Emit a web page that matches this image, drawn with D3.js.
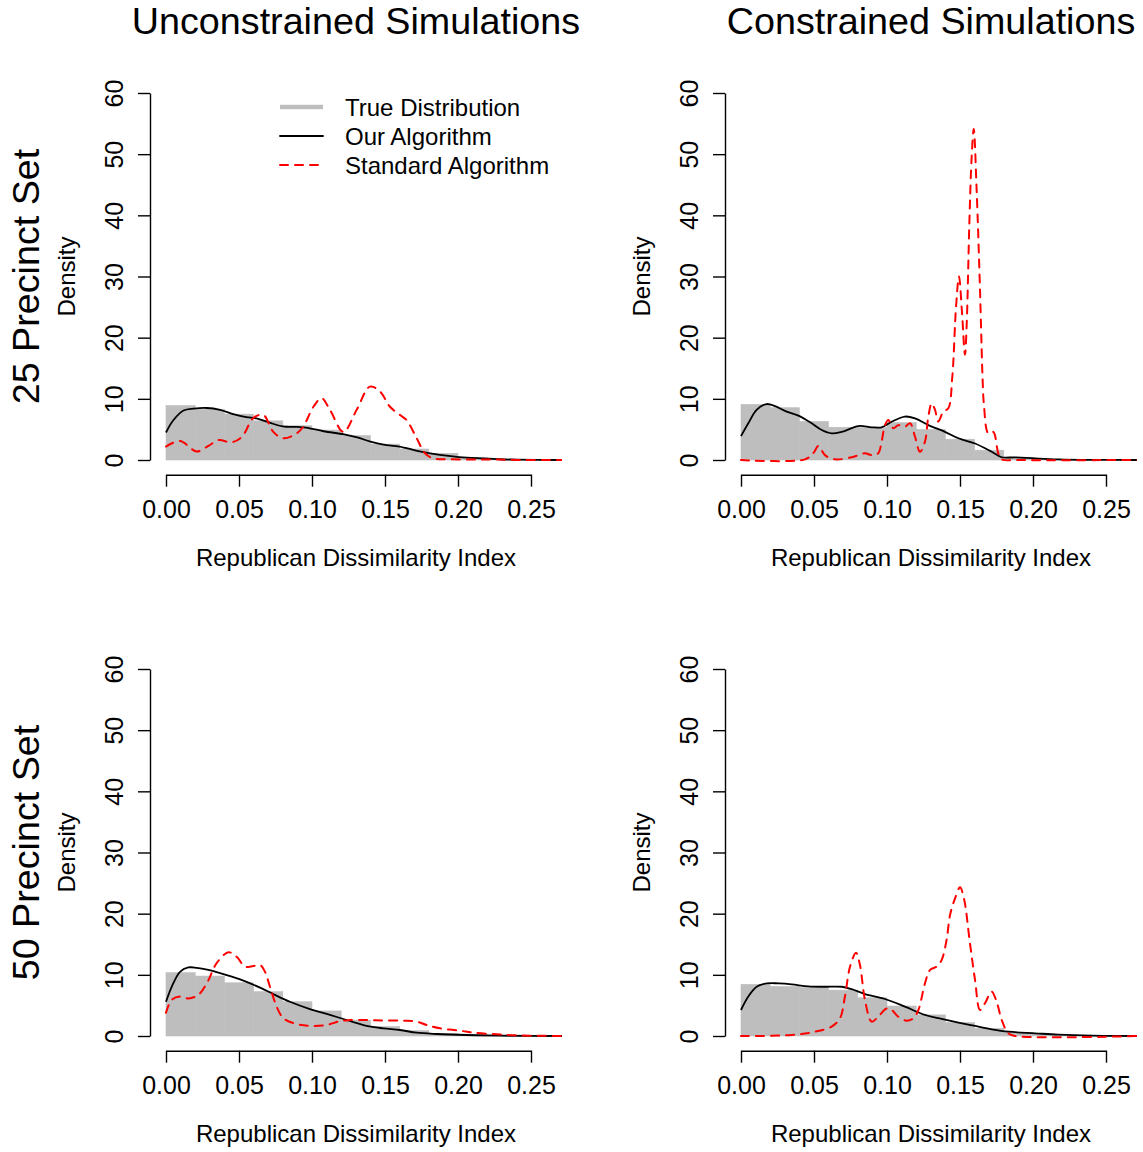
<!DOCTYPE html>
<html>
<head>
<meta charset="utf-8">
<script src="https://cdn.jsdelivr.net/npm/d3@7"></script>
<style>
  body { margin: 0; background: #fff; }
  svg { display: block; font-family: "Liberation Sans", Arial, Helvetica, sans-serif; }
</style>
</head>
<body>
<div id="chart"></div>
<script>
// histogram bins (left edges), width 0.02
const histBins = [0, 0.02, 0.04, 0.06, 0.08, 0.10, 0.12, 0.14, 0.16, 0.18, 0.20, 0.22, 0.24];
const binWidth = 0.02;

// true distribution densities per bin
const true25u = [8.9, 8.3, 7.5, 6.4, 5.6, 4.9, 4.0, 2.6, 1.8, 1.1, 0.45, 0.15, 0.05];
const true25c = [9.1, 8.55, 6.3, 5.35, 5.3, 6.1, 5.0, 3.4, 1.6, 0.35, 0.1, 0.03, 0];
const true50u = [10.35, 9.8, 8.7, 7.25, 5.6, 4.1, 2.6, 1.55, 0.87, 0.45, 0.22, 0.1, 0.03];
const true50c = [8.45, 8.1, 7.9, 7.5, 6.25, 4.9, 3.45, 2.2, 1.25, 0.6, 0.27, 0.1, 0.03];

// density curves, [x, density]
const ours25u = [[0, 4.5], [0.005, 6.5], [0.012, 8.1], [0.019, 8.4], [0.028, 8.5], [0.037, 8.2],
  [0.046, 7.5], [0.055, 7.0], [0.062, 6.8], [0.071, 6.1], [0.080, 5.5], [0.090, 5.4], [0.096, 5.3],
  [0.108, 4.7], [0.122, 4.2], [0.131, 3.7], [0.140, 3.0], [0.149, 2.5], [0.160, 2.2], [0.172, 1.5],
  [0.181, 1.1], [0.195, 0.65], [0.206, 0.4], [0.217, 0.27], [0.229, 0.12], [0.240, 0.05], [0.272, 0]];
const std25u = [[0, 2.2], [0.0096, 3.1], [0.021, 1.4], [0.029, 2.3], [0.036, 3.25], [0.045, 2.9],
  [0.052, 3.8], [0.060, 6.9], [0.0667, 7.35], [0.0735, 4.6], [0.0804, 3.55], [0.0895, 4.35],
  [0.094, 5.45], [0.101, 8.7], [0.1066, 10.1], [0.1123, 8.2], [0.1215, 4.6], [0.1306, 8.2],
  [0.1397, 12.0], [0.1466, 11.2], [0.1534, 8.7], [0.1603, 7.35], [0.1649, 6.5], [0.1717, 3.55],
  [0.1774, 1.1], [0.1831, 0.27], [0.1945, 0.11], [0.217, 0.1], [0.240, 0.02], [0.272, 0]];

const ours25c = [[0, 3.9], [0.005, 6.0], [0.0107, 8.2], [0.0176, 9.15], [0.0233, 8.8], [0.0313, 7.9],
  [0.0393, 7.25], [0.0484, 6.0], [0.0553, 4.9], [0.0621, 4.35], [0.069, 4.6], [0.0804, 5.55],
  [0.0895, 5.35], [0.0963, 5.35], [0.1032, 6.25], [0.1123, 7.1], [0.1192, 6.8], [0.1283, 5.7],
  [0.1397, 4.6], [0.1489, 3.55], [0.1603, 2.7], [0.1717, 1.35], [0.1785, 0.45], [0.1877, 0.44],
  [0.2014, 0.27], [0.2173, 0.11], [0.2402, 0.02], [0.272, 0]];
const std25c = [[0, 0], [0.0438, 0.11], [0.0495, 1.1], [0.053, 2.3], [0.0575, 0.8], [0.0644, 0.11],
  [0.0758, 0.45], [0.0849, 1.1], [0.0895, 0.8], [0.094, 1.1], [0.0963, 3.0], [0.0986, 5.7],
  [0.1009, 6.55], [0.1043, 5.2], [0.1078, 5.7], [0.1123, 5.45], [0.1158, 6.0], [0.1192, 3.8],
  [0.1226, 1.35], [0.126, 3.0], [0.1283, 7.1], [0.1306, 9.25], [0.1329, 8.2], [0.1351, 6.3],
  [0.1386, 7.9], [0.142, 8.45], [0.1447, 13.5], [0.1473, 25.1], [0.1493, 30.0], [0.1514, 24.0],
  [0.1534, 17.2], [0.1546, 22.3], [0.1564, 38.7], [0.158, 49.6], [0.1594, 54.1], [0.1614, 44.1],
  [0.1637, 27.8], [0.1655, 13.1], [0.1664, 9.0], [0.1694, 4.35], [0.1728, 4.6], [0.1762, 1.1],
  [0.1786, 0.1], [0.19, 0], [0.272, 0]];

const ours50u = [[0, 5.6], [0.0039, 8.05], [0.0096, 10.5], [0.0153, 11.2], [0.021, 11.15],
  [0.029, 10.8], [0.0416, 9.95], [0.053, 9.05], [0.0644, 7.9], [0.0735, 6.85], [0.0849, 5.6],
  [0.0986, 4.4], [0.1123, 3.45], [0.126, 2.45], [0.1374, 1.65], [0.1489, 1.25], [0.1603, 0.98],
  [0.1717, 0.54], [0.1854, 0.33], [0.2059, 0.16], [0.2288, 0.05], [0.272, 0]];
const std50u = [[0, 3.8], [0.0039, 5.9], [0.0096, 6.45], [0.0153, 6.15], [0.022, 6.7], [0.0279, 8.6],
  [0.0347, 11.9], [0.0427, 13.7], [0.0484, 12.95], [0.0541, 11.35], [0.0598, 11.45], [0.0644, 11.6],
  [0.0678, 10.5], [0.0712, 8.05], [0.0758, 4.8], [0.0804, 2.9], [0.0895, 1.95], [0.0986, 1.65],
  [0.11, 1.8], [0.1192, 2.45], [0.126, 2.6], [0.1374, 2.6], [0.1489, 2.55], [0.1626, 2.5],
  [0.1717, 2.35], [0.1785, 1.8], [0.1877, 1.25], [0.2014, 0.87], [0.2105, 0.54], [0.2265, 0.27],
  [0.2402, 0.1], [0.272, 0]];

const ours50c = [[0, 4.25], [0.005, 6.45], [0.0107, 8.05], [0.0176, 8.6], [0.0256, 8.6], [0.0347, 8.45],
  [0.0461, 8.1], [0.0575, 8.05], [0.069, 8.05], [0.0758, 7.65], [0.0849, 6.85], [0.0986, 6.05],
  [0.1123, 4.8], [0.126, 3.45], [0.1374, 2.8], [0.1489, 2.2], [0.1603, 1.65], [0.1717, 1.1],
  [0.1831, 0.7], [0.2014, 0.44], [0.2173, 0.22], [0.2402, 0.05], [0.272, 0]];
const std50c = [[0, 0], [0.0347, 0.16], [0.0507, 0.7], [0.0621, 1.55], [0.0678, 2.9], [0.0712, 6.45],
  [0.0747, 11.35], [0.0788, 13.6], [0.0815, 11.6], [0.0849, 5.9], [0.0895, 2.35], [0.094, 3.15],
  [0.0998, 4.5], [0.1032, 4.25], [0.1078, 3.15], [0.1135, 2.5], [0.1181, 2.9], [0.1215, 4.25],
  [0.126, 8.6], [0.1295, 10.8], [0.134, 11.35], [0.1374, 12.4], [0.1408, 15.7], [0.1432, 19.8],
  [0.1466, 22.5], [0.15, 24.3], [0.1527, 22.5], [0.1568, 15.2], [0.1603, 9.15], [0.1637, 4.25],
  [0.1671, 5.35], [0.1717, 7.25], [0.1751, 5.6], [0.1786, 2.6], [0.1831, 0.44], [0.1877, 0],
  [0.272, 0]];

const xTicks = [0, 0.05, 0.10, 0.15, 0.20, 0.25];
const yTicks = [0, 10, 20, 30, 40, 50, 60];
const colTitles = ["Unconstrained Simulations", "Constrained Simulations"];
const rowTitles = ["25 Precinct Set", "50 Precinct Set"];
const legendLabels = ["True Distribution", "Our Algorithm", "Standard Algorithm"];

const W = 1143, H = 1152;
const svg = d3.select("#chart").append("svg").attr("width", W).attr("height", H);

const panels = [
  { col: 0, row: 0, hist: true25u, ours: ours25u, std: std25u, legend: true },
  { col: 1, row: 0, hist: true25c, ours: ours25c, std: std25c },
  { col: 0, row: 1, hist: true50u, ours: ours50u, std: std50u },
  { col: 1, row: 1, hist: true50c, ours: ours50c, std: std50c },
];

const line = (x, y) => d3.line()
  .x(d => x(d[0])).y(d => y(d[1]))
  .curve(d3.curveCatmullRom.alpha(0.5));

panels.forEach((p, i) => {
  const left = p.col ? 725 : 150;      // plot-region left edge (y axis)
  const rowOff = p.row * 576;
  const x = d3.scaleLinear().domain([0, 0.25]).range([left + 16, left + 16 + 365]);
  const y = d3.scaleLinear().domain([0, 60]).range([460 + rowOff, 93 + rowOff]);
  const plotTop = y(62.4), plotBot = y(-2.4), plotRight = left + 412;
  const g = svg.append("g");

  const clipId = "clip" + i;
  g.append("clipPath").attr("id", clipId).append("rect")
    .attr("x", left).attr("y", plotTop).attr("width", plotRight - left).attr("height", plotBot - plotTop);
  const pg = g.append("g").attr("clip-path", `url(#${clipId})`);

  // bars, no border; a thin same-colour stroke hides the seams between them
  pg.selectAll("rect.bar").data(p.hist).join("rect")
    .attr("x", (d, k) => x(histBins[k]))
    .attr("width", (d, k) => x(histBins[k] + binWidth) - x(histBins[k]))
    .attr("y", d => y(d))
    .attr("height", d => y(0) - y(d))
    .attr("fill", "#bebebe")
    .attr("stroke", "#bebebe").attr("stroke-width", 0.6);

  pg.append("path").attr("d", line(x, y)(p.ours))
    .attr("fill", "none").attr("stroke", "#000").attr("stroke-width", 1.8);
  pg.append("path").attr("d", line(x, y)(p.std))
    .attr("fill", "none").attr("stroke", "#ff0000").attr("stroke-width", 2)
    .attr("stroke-dasharray", "8,7").attr("stroke-linecap", "round");

  // x axis
  const xa = g.append("g").attr("transform", `translate(0,${plotBot})`)
    .call(d3.axisBottom(x).tickValues(xTicks).tickFormat(d3.format(".2f")).tickSize(12).tickSizeOuter(0));
  xa.select(".domain").attr("stroke-width", 1.4);
  xa.selectAll(".tick line").attr("stroke-width", 1.4);
  xa.selectAll(".tick text").attr("y", 43).attr("dy", 0)
    .attr("font-size", 25).attr("fill", "#000");

  // y axis, labels parallel to the axis
  const ya = g.append("g").attr("transform", `translate(${left},0)`)
    .call(d3.axisLeft(y).tickValues(yTicks).tickSize(12).tickSizeOuter(0));
  ya.select(".domain").attr("stroke-width", 1.4);
  ya.selectAll(".tick line").attr("stroke-width", 1.4);
  ya.selectAll(".tick text").attr("x", 0).attr("dy", 0).attr("text-anchor", "middle")
    .attr("transform", "translate(-27,0) rotate(-90)")
    .attr("font-size", 25).attr("fill", "#000");
  svg.selectAll("g[font-family]").attr("font-family", null).attr("font-size", null);

  const cx = (left + plotRight) / 2;
  g.append("text").attr("x", cx).attr("y", 566 + rowOff)
    .attr("text-anchor", "middle").attr("font-size", 24).text("Republican Dissimilarity Index");

  const cy = (y(0) + y(60)) / 2;
  g.append("text").attr("transform", `translate(${left - 75},${cy}) rotate(-90)`)
    .attr("text-anchor", "middle").attr("font-size", 24).text("Density");

  if (p.row === 0) {
    g.append("text").attr("x", cx).attr("y", 34)
      .attr("text-anchor", "middle").attr("font-size", 37.7).text(colTitles[p.col]);
  }
  if (p.col === 0) {
    g.append("text").attr("transform", `translate(39,${cy}) rotate(-90)`)
      .attr("text-anchor", "middle").attr("font-size", 37.7).text(rowTitles[p.row]);
  }

  if (p.legend) {
    const styles = [
      { stroke: "#bebebe", width: 4.5, dash: null },
      { stroke: "#000", width: 1.8, dash: null },
      { stroke: "#ff0000", width: 2, dash: "8,7" },
    ];
    const lg = g.append("g");
    legendLabels.forEach((lab, k) => {
      const ly = 107 + k * 29;
      lg.append("line").attr("x1", 280).attr("x2", 323).attr("y1", ly).attr("y2", ly)
        .attr("stroke", styles[k].stroke).attr("stroke-width", styles[k].width)
        .attr("stroke-linecap", k === 0 ? "butt" : "round")
        .attr("stroke-dasharray", styles[k].dash);
      lg.append("text").attr("x", 345).attr("y", ly + 8.5).attr("font-size", 24).text(lab);
    });
  }
});
</script>
</body>
</html>
